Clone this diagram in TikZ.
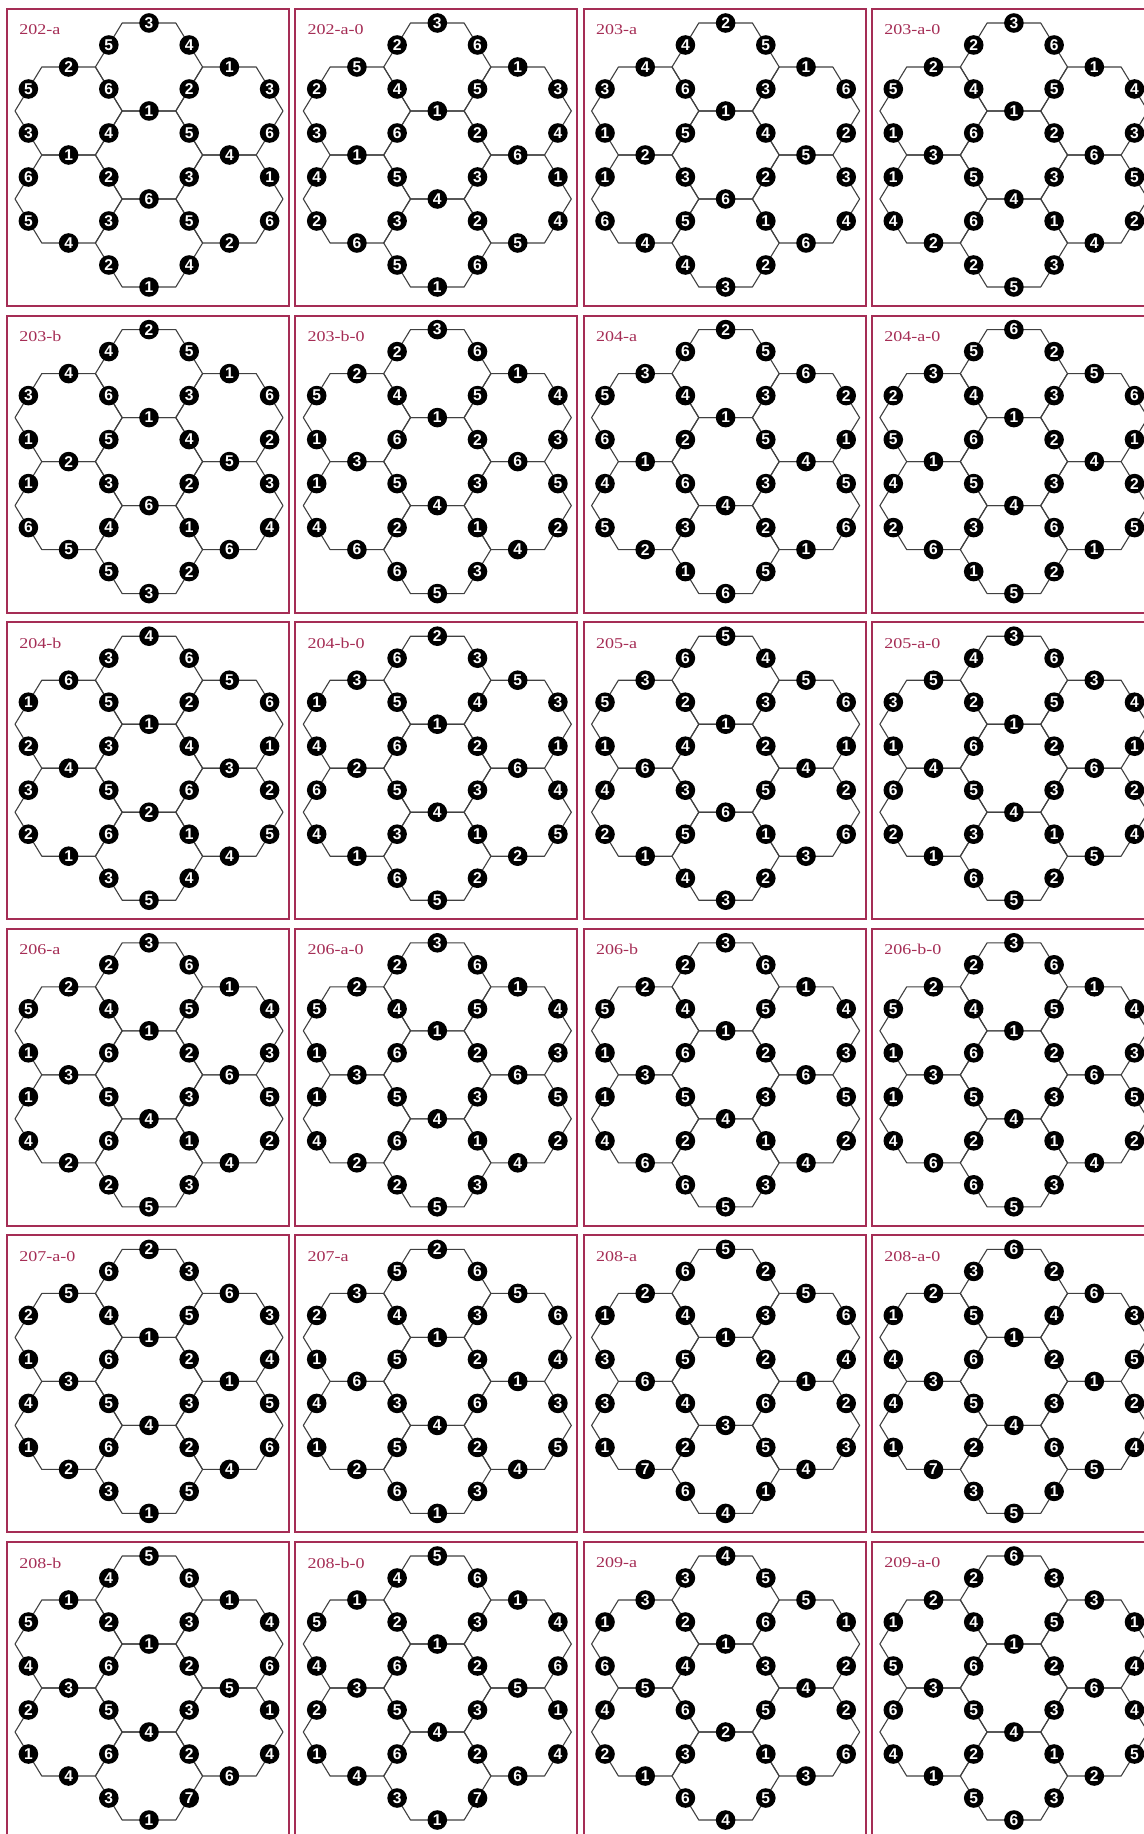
\documentclass[tikz,border=0pt]{standalone}
\usepackage{fontspec}
\setmainfont{Liberation Serif}
\setsansfont{Liberation Sans}
\definecolor{framec}{RGB}{165,45,85}
\tikzset{
  panelframe/.style={draw=framec, line width=1pt},
  hexline/.style={draw=black!75, line width=0.55pt, line join=round},
  lab/.style={circle, fill=black, text=white, inner sep=0pt, minimum size=9.8pt,
    font=\sffamily\bfseries\fontsize{7.8}{7.8}\selectfont},
  ttl/.style={anchor=west, text=framec, inner sep=0pt, font=\fontsize{7.5}{7.5}\selectfont}
}
\newcommand\hexpanel[4]{%
\begin{scope}[shift={({7+288.3*#1},{9+306.6*#2})}]
  \draw[panelframe] (0,0) rectangle (282,297);
  \node[ttl] (t-#1-#2) at (12,21) {\scalebox{1.2}[1]{#3}};
  \foreach \cx/\cy in {0/0,0/-88,80.4/-44,80.4/44,0/88,-80.4/44,-80.4/-44}
    \draw[hexline] ({142+\cx+53.6},{146+\cy}) -- ({142+\cx+26.8},{146+\cy+44})
      -- ({142+\cx-26.8},{146+\cy+44}) -- ({142+\cx-53.6},{146+\cy})
      -- ({142+\cx-26.8},{146+\cy-44}) -- ({142+\cx+26.8},{146+\cy-44}) -- cycle;
  \foreach \pX/\pY [count=\i from 0] in {0/6,-1/5,1/5,-2/4,2/4,-3/3,-1/3,1/3,3/3,0/2,
      -3/1,-1/1,1/1,3/1,-2/0,2/0,-3/-1,-1/-1,1/-1,3/-1,0/-2,-3/-3,-1/-3,1/-3,3/-3,
      -2/-4,2/-4,-1/-5,1/-5,0/-6}{
    \pgfmathtruncatemacro\lv{#4[\i]}
    \node[lab] (n-#1-#2-\i) at ({142+\pX*40.2},{146-\pY*22}) {\lv};
  }
\end{scope}}
\begin{document}
\begin{tikzpicture}[x=0.5pt,y=-0.5pt]
\useasboundingbox (0,0) rectangle (1144,1834);
\clip (0,0) rectangle (1144,1834);
\fill[white] (0,0) rectangle (1144,1834);
\hexpanel{0}{0}{202-a}{{3,5,4,2,1,5,6,2,3,1,3,4,5,6,1,4,6,2,3,1,6,5,3,5,6,4,2,2,4,1}}
\hexpanel{1}{0}{202-a-0}{{3,2,6,5,1,2,4,5,3,1,3,6,2,4,1,6,4,5,3,1,4,2,3,2,4,6,5,5,6,1}}
\hexpanel{2}{0}{203-a}{{2,4,5,4,1,3,6,3,6,1,1,5,4,2,2,5,1,3,2,3,6,6,5,1,4,4,6,4,2,3}}
\hexpanel{3}{0}{203-a-0}{{3,2,6,2,1,5,4,5,4,1,1,6,2,3,3,6,1,5,3,5,4,4,6,1,2,2,4,2,3,5}}
\hexpanel{0}{1}{203-b}{{2,4,5,4,1,3,6,3,6,1,1,5,4,2,2,5,1,3,2,3,6,6,4,1,4,5,6,5,2,3}}
\hexpanel{1}{1}{203-b-0}{{3,2,6,2,1,5,4,5,4,1,1,6,2,3,3,6,1,5,3,5,4,4,2,1,2,6,4,6,3,5}}
\hexpanel{2}{1}{204-a}{{2,6,5,3,6,5,4,3,2,1,6,2,5,1,1,4,4,6,3,5,4,5,3,2,6,2,1,1,5,6}}
\hexpanel{3}{1}{204-a-0}{{6,5,2,3,5,2,4,3,6,1,5,6,2,1,1,4,4,5,3,2,4,2,3,6,5,6,1,1,2,5}}
\hexpanel{0}{2}{204-b}{{4,3,6,6,5,1,5,2,6,1,2,3,4,1,4,3,3,5,6,2,2,2,6,1,5,1,4,3,4,5}}
\hexpanel{1}{2}{204-b-0}{{2,6,3,3,5,1,5,4,3,1,4,6,2,1,2,6,6,5,3,4,4,4,3,1,5,1,2,6,2,5}}
\hexpanel{2}{2}{205-a}{{5,6,4,3,5,5,2,3,6,1,1,4,2,1,6,4,4,3,5,2,6,2,5,1,6,1,3,4,2,3}}
\hexpanel{3}{2}{205-a-0}{{3,4,6,5,3,3,2,5,4,1,1,6,2,1,4,6,6,5,3,2,4,2,3,1,4,1,5,6,2,5}}
\hexpanel{0}{3}{206-a}{{3,2,6,2,1,5,4,5,4,1,1,6,2,3,3,6,1,5,3,5,4,4,6,1,2,2,4,2,3,5}}
\hexpanel{1}{3}{206-a-0}{{3,2,6,2,1,5,4,5,4,1,1,6,2,3,3,6,1,5,3,5,4,4,6,1,2,2,4,2,3,5}}
\hexpanel{2}{3}{206-b}{{3,2,6,2,1,5,4,5,4,1,1,6,2,3,3,6,1,5,3,5,4,4,2,1,2,6,4,6,3,5}}
\hexpanel{3}{3}{206-b-0}{{3,2,6,2,1,5,4,5,4,1,1,6,2,3,3,6,1,5,3,5,4,4,2,1,2,6,4,6,3,5}}
\hexpanel{0}{4}{207-a-0}{{2,6,3,5,6,2,4,5,3,1,1,6,2,4,3,1,4,5,3,5,4,1,6,2,6,2,4,3,5,1}}
\hexpanel{1}{4}{207-a}{{2,5,6,3,5,2,4,3,6,1,1,5,2,4,6,1,4,3,6,3,4,1,5,2,5,2,4,6,3,1}}
\hexpanel{2}{4}{208-a}{{5,6,2,2,5,1,4,3,6,1,3,5,2,4,6,1,3,4,6,2,3,1,2,5,3,7,4,6,1,4}}
\hexpanel{3}{4}{208-a-0}{{6,3,2,2,6,1,5,4,3,1,4,6,2,5,3,1,4,5,3,2,4,1,2,6,4,7,5,3,1,5}}
\hexpanel{0}{5}{208-b}{{5,4,6,1,1,5,2,3,4,1,4,6,2,6,3,5,2,5,3,1,4,1,6,2,4,4,6,3,7,1}}
\hexpanel{1}{5}{208-b-0}{{5,4,6,1,1,5,2,3,4,1,4,6,2,6,3,5,2,5,3,1,4,1,6,2,4,4,6,3,7,1}}
\hexpanel{2}{5}{209-a}{{4,3,5,3,5,1,2,6,1,1,6,4,3,2,5,4,4,6,5,2,2,2,3,1,6,1,3,6,5,4}}
\hexpanel{3}{5}{209-a-0}{{6,2,3,2,3,1,4,5,1,1,5,6,2,4,3,6,6,5,3,4,4,4,2,1,5,1,2,5,3,6}}
\end{tikzpicture}
\end{document}
